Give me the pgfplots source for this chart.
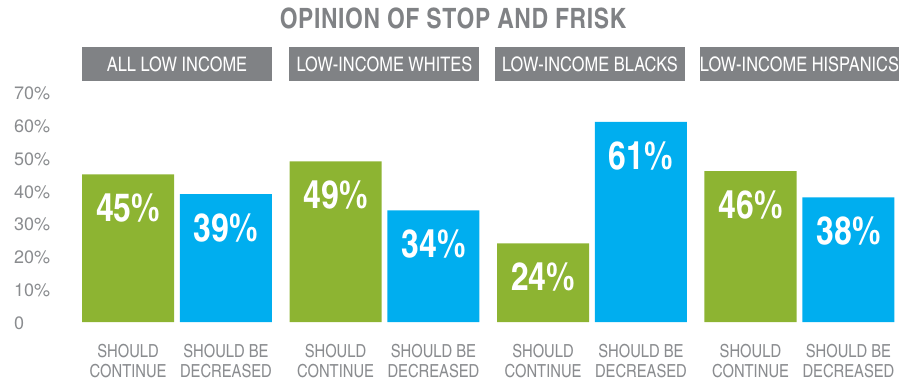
\documentclass[border=0pt]{standalone}
\usepackage{fontspec}
\setmainfont{TeX Gyre Heros}
\newfontfamily\cn{texgyreheroscn}[Extension=.otf, UprightFont=*-regular, BoldFont=*-bold]
\newfontfamily\cnt{texgyreheroscn}[Extension=.otf, UprightFont=*-bold, LetterSpace=2]
\usepackage{pgfplots}
\pgfplotsset{compat=1.18}
\definecolor{cgreen}{HTML}{8DB432}
\definecolor{cblue}{HTML}{00AEEF}
\definecolor{cbox}{HTML}{808285}
\definecolor{ctext}{HTML}{8A8C8F}
\begin{document}
\begin{tikzpicture}
\path[use as bounding box] (0pt,0pt) rectangle (903pt,381pt);
\node[font=\cnt\fontsize{28}{28}\selectfont, text=cbox, anchor=center] at (453pt,363pt) {OPINION OF STOP AND FRISK};
\begin{axis}[
  at={(0pt,59pt)}, anchor=south west,
  scale only axis, width=903pt, height=229.6pt,
  xmin=-0.853, xmax=3.499, ymin=0, ymax=70,
  ybar, bar width=0.4434,
  axis line style={draw=none}, tick style={draw=none},
  ytick={0,10,...,70},
  yticklabels={0,10\%,20\%,30\%,40\%,50\%,60\%,70\%},
  yticklabel style={anchor=west, inner sep=0pt, xshift=14pt, yshift=-1pt, font=\fontsize{18}{20}\selectfont, text=ctext},
  xtick={-0.236,0.236,0.764,1.236,1.764,2.236,2.764,3.236},
  xticklabels={{SHOULD\\CONTINUE},{SHOULD BE\\DECREASED},{SHOULD\\CONTINUE},{SHOULD BE\\DECREASED},{SHOULD\\CONTINUE},{SHOULD BE\\DECREASED},{SHOULD\\CONTINUE},{SHOULD BE\\DECREASED}},
  xticklabel style={align=center, inner sep=0pt, anchor=north, yshift=-18pt, font=\cn\fontsize{18}{20}\selectfont, text=ctext},
  clip=false,
  nodes near coords={\pgfmathprintnumber[assume math mode=true]{\pgfplotspointmeta}\%},
  nodes near coords style={font=\cn\bfseries\fontsize{39}{39}\selectfont, text=white, anchor=center, yshift=-34pt},
]
\addplot[fill=cgreen, draw=none, bar shift=-0.236] coordinates {(0,45) (1,49) (2,24) (3,46)};
\addplot[fill=cblue, draw=none, bar shift=0.236] coordinates {(0,39) (1,34) (2,61) (3,38)};
\node[fill=cbox, text=white, minimum width=190pt, minimum height=34pt, inner sep=0pt, font=\cn\fontsize{20}{20}\selectfont] at (axis cs:0,78.66) {ALL LOW INCOME};
\node[fill=cbox, text=white, minimum width=190pt, minimum height=34pt, inner sep=0pt, font=\cn\fontsize{20}{20}\selectfont] at (axis cs:1,78.66) {LOW-INCOME WHITES};
\node[fill=cbox, text=white, minimum width=190pt, minimum height=34pt, inner sep=0pt, font=\cn\fontsize{20}{20}\selectfont] at (axis cs:1.99,78.66) {LOW-INCOME BLACKS};
\node[fill=cbox, text=white, minimum width=190pt, minimum height=34pt, inner sep=0pt, font=\cn\fontsize{20}{20}\selectfont] at (axis cs:3,78.66) {LOW-INCOME HISPANICS};
\end{axis}
\end{tikzpicture}
\end{document}
